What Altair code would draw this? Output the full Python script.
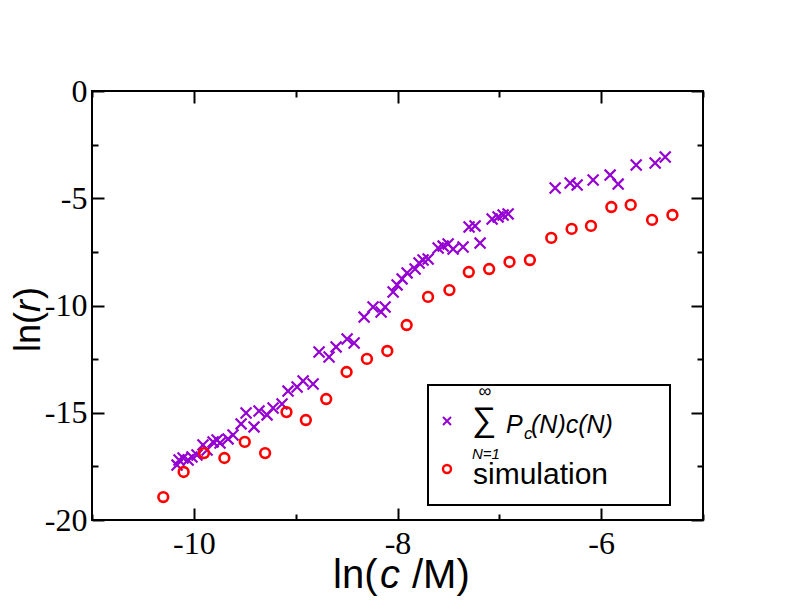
import altair as alt
import pandas as pd

# ---- data ----
cross_x = [-10.165, -10.145, -10.106, -10.057, -10.018, -9.969, -9.910, -9.870, -9.811, -9.772,
           -9.743, -9.664, -9.615, -9.536, -9.487, -9.409, -9.360, -9.281, -9.222, -9.134,
           -9.075, -8.986, -8.927, -8.829, -8.770, -8.672, -8.603, -8.495, -8.426, -8.328,
           -8.240, -8.161, -8.122, -8.043, -8.004, -7.955, -7.906, -7.827, -7.788, -7.749,
           -7.699, -7.601, -7.552, -7.503, -7.454, -7.356, -7.297, -7.238, -7.189, -7.071,
           -7.012, -6.963, -6.914, -6.452, -6.305, -6.236, -6.079, -5.912, -5.833, -5.656,
           -5.470, -5.371]
cross_y = [-17.44, -17.20, -17.11, -17.20, -17.06, -16.97, -16.50, -16.74, -16.36, -16.27,
           -16.41, -16.22, -16.04, -15.52, -15.01, -15.66, -14.92, -15.10, -14.78, -14.59,
           -13.99, -13.80, -13.52, -13.66, -12.17, -12.40, -11.93, -11.56, -11.75, -10.54,
           -10.07, -10.30, -10.07, -9.37, -9.04, -8.76, -8.48, -8.30, -8.02, -7.88,
           -7.83, -7.32, -7.23, -7.13, -7.37, -7.27, -6.34, -6.29, -7.09, -5.97,
           -5.87, -5.78, -5.73, -4.52, -4.29, -4.38, -4.15, -3.92, -4.34, -3.45,
           -3.36, -3.08]
circ_x = [-10.30, -10.10, -9.90, -9.70, -9.50, -9.30, -9.09, -8.90, -8.70, -8.50,
          -8.30, -8.10, -7.91, -7.70, -7.49, -7.30, -7.10, -6.90, -6.70, -6.49,
          -6.29, -6.10, -5.90, -5.71, -5.50, -5.30]
circ_y = [-18.93, -17.76, -16.88, -17.11, -16.36, -16.88, -14.97, -15.34, -14.36, -13.10,
          -12.49, -12.12, -10.91, -9.60, -9.28, -8.44, -8.30, -7.97, -7.88, -6.85,
          -6.43, -6.29, -5.41, -5.31, -6.01, -5.78]

x_labels = [-10, -8, -6]
x_ticks = [-11, -10, -9, -8, -7, -6, -5]
y_labels = [-20, -15, -10, -5, 0]
y_ticks = [-20, -17.5, -15, -12.5, -10, -7.5, -5, -2.5, 0]

W, H = 611, 429
PURPLE = "#9400D3"
RED = "#FF0000"
XPATH = "M -1 -1 L 1 1 M 1 -1 L -1 1"

cross_df = pd.DataFrame({"x": cross_x, "y": cross_y})
circ_df = pd.DataFrame({"x": circ_x, "y": circ_y})
one = pd.DataFrame({"k": [0]})

xs = alt.Scale(domain=[-11, -5], nice=False, zero=False)
ys = alt.Scale(domain=[-20, 0], nice=False, zero=False)

tick_x = {"condition": {"test": "datum.value % 2 === 0", "value": 12}, "value": 6}
tick_y = {"condition": {"test": "datum.value % 5 === 0", "value": 12}, "value": 6}


def tick_axis(orient, offset, values, size):
    return alt.Axis(orient=orient, offset=offset, values=values, labels=False,
                    domain=False, grid=False, ticks=True, tickSize=size,
                    tickColor="black", tickWidth=2, title=None)


lab_x = alt.Axis(orient="bottom", values=x_labels, ticks=False, domain=False, grid=False,
                 labelFont="Liberation Serif", labelFontSize=32, labelColor="black",
                 labelPadding=8, title=None, labelExpr="toString(datum.value)")
lab_y = alt.Axis(orient="left", values=y_labels, ticks=False, domain=False, grid=False,
                 labelFont="Liberation Serif", labelFontSize=32, labelColor="black",
                 labelPadding=5, title=None, labelExpr="toString(datum.value)")

crosses = alt.Chart(cross_df).mark_point(
    shape=XPATH, filled=False, color=PURPLE, strokeWidth=2.2, size=120, opacity=1
).encode(x=alt.X("x:Q", scale=xs, axis=lab_x), y=alt.Y("y:Q", scale=ys, axis=lab_y))

circles = alt.Chart(circ_df).mark_point(
    shape="circle", filled=False, color=RED, strokeWidth=2.6, size=95, opacity=1
).encode(
    x=alt.X("x:Q", scale=xs, axis=tick_axis("top", -H, x_ticks, tick_x)),
    y=alt.Y("y:Q", scale=ys, axis=tick_axis("right", -W, y_ticks, tick_y)),
)

frame_ticks = alt.Chart(circ_df).mark_point(opacity=0).encode(
    x=alt.X("x:Q", scale=xs, axis=tick_axis("bottom", -H, x_ticks, tick_x)),
    y=alt.Y("y:Q", scale=ys, axis=tick_axis("left", -W, y_ticks, tick_y)),
)


def txt(s, x, y, size, style="normal", align="left", baseline="alphabetic", angle=0,
        font="Liberation Sans"):
    return alt.Chart(one).mark_text(
        text=s, font=font, fontSize=size, fontStyle=style, align=align,
        baseline=baseline, angle=angle, color="black"
    ).encode(x=alt.value(x), y=alt.value(y))


box = alt.Chart(one).mark_rect(fill="white", stroke="black", strokeWidth=2).encode(
    x=alt.value(336), x2=alt.value(578), y=alt.value(294), y2=alt.value(414))
leg_cross = alt.Chart(one).mark_point(
    shape=XPATH, filled=False, color=PURPLE, strokeWidth=2, size=64, opacity=1
).encode(x=alt.value(355), y=alt.value(330))
leg_circ = alt.Chart(one).mark_point(
    shape="circle", filled=False, color=RED, strokeWidth=2.4, size=64, opacity=1
).encode(x=alt.value(355), y=alt.value(378))

legend_text = [
    txt("∞", 393, 301, 18, align="center", baseline="middle"),
    txt("∑", 392, 330, 34, align="center", baseline="middle"),
    txt("N=1", 394, 368, 15, style="italic", align="center"),
    txt("P", 414, 342, 25, style="italic"),
    txt("c", 432, 348, 17, style="italic"),
    txt("(N)c(N)", 439, 342, 25, style="italic"),
    txt("simulation", 381, 393, 30),
]

titles = [
    txt("ln(", 241, 497, 40),
    txt("c", 288, 497, 40, style="italic"),
    txt("/M)", 320, 497, 40),
    txt("ln(", -52, 261, 36, angle=270),
    txt("r", -52, 221, 36, style="italic", angle=270),
    txt(")", -52, 208, 36, angle=270),
]

chart = alt.layer(
    crosses, circles, frame_ticks, box, leg_cross, leg_circ, *legend_text, *titles
).resolve_axis(
    x="independent", y="independent"
).properties(
    width=W, height=H,
    padding={"left": 84, "top": 83, "right": 81, "bottom": 84},
    autosize=alt.AutoSizeParams(type="none"),
    background="white",
).configure_view(stroke="black", strokeWidth=2)

chart.save("out.html", embed_options={"renderer": "svg", "actions": False})
